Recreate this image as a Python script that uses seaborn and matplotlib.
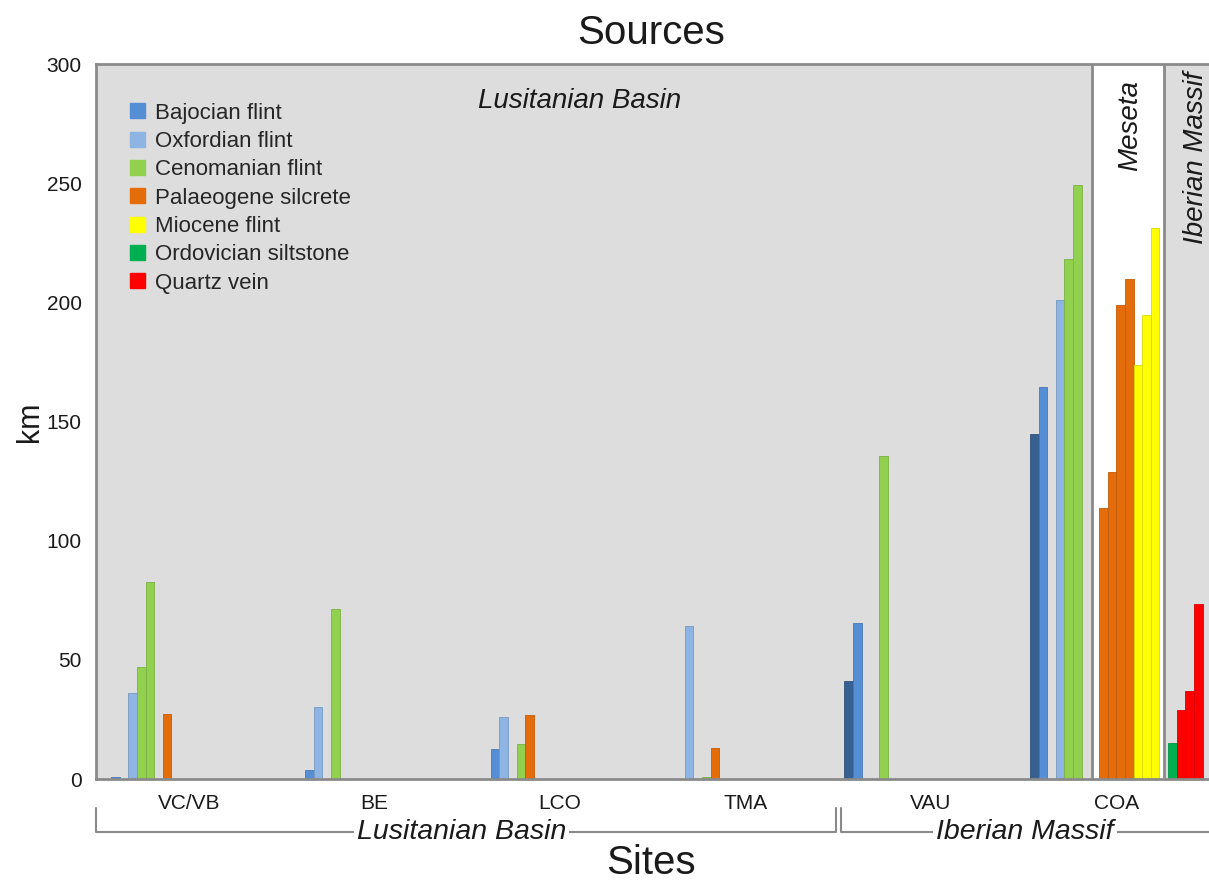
import numpy as np
import pandas as pd
import matplotlib.pyplot as plt
from matplotlib.patches import Patch
from matplotlib.colors import to_rgb
import seaborn as sns

sites = ["VC/VB", "BE", "LCO", "TMA", "VAU", "COA"]

source_names = ["Bajocian flint", "Oxfordian flint", "Cenomanian flint", "Palaeogene silcrete",
                "Miocene flint", "Ordovician siltstone", "Quartz vein"]
source_colors = ["#558ED5", "#8DB4E2", "#92D050", "#E46C0A", "#FFFF00", "#00B050", "#FF0000"]
dark_blue = "#376092"

nan = np.nan
# km from each site to the outcrops, one list per bar slot of a site cluster
bajocian_1 = [nan, nan, nan, nan, 41.2, 144.7]
bajocian_2 = [0.7, nan, nan, nan, 65.3, 164.3]
bajocian_3 = [nan, 3.6, 12.7, nan, nan, nan]
oxfordian_1 = [36.0, 30.1, 26.0, 64.3, nan, 200.8]
cenomanian_1 = [47.0, nan, nan, nan, 135.6, 218.0]
cenomanian_2 = [82.6, 71.3, 14.8, 0.7, nan, 249.2]
palaeogene_1 = [nan, nan, 27.0, 13.2, nan, nan]
palaeogene_2 = [27.4, nan, nan, nan, nan, nan]

# sources only reached from COA
coa_palaeogene = [113.5, 128.8, 198.8, 209.7]
coa_miocene = [173.7, 194.5, 231.3]
coa_ordovician = [15.3]
coa_quartz = [29.0, 37.1, 73.4]

# build the slot list (values per site + colour)
slots = [
    (bajocian_1, dark_blue),
    (bajocian_2, source_colors[0]),
    (bajocian_3, source_colors[0]),
    (oxfordian_1, source_colors[1]),
    (cenomanian_1, source_colors[2]),
    (cenomanian_2, source_colors[2]),
    (palaeogene_1, source_colors[3]),
    (palaeogene_2, source_colors[3]),
]
only_coa = lambda v: [nan] * 5 + [v]
slots += [(only_coa(v), source_colors[3]) for v in coa_palaeogene]
slots += [(only_coa(v), source_colors[4]) for v in coa_miocene]
slots += [([nan] * 6, "#FFFFFF")]  # empty slot
slots += [(only_coa(v), source_colors[5]) for v in coa_ordovician]
slots += [(only_coa(v), source_colors[6]) for v in coa_quartz]

rows = []
for i, (vals, col) in enumerate(slots):
    for site, v in zip(sites, vals):
        if not np.isnan(v):
            rows.append({"site": site, "slot": f"s{i}", "km": v})
df = pd.DataFrame(rows)
slot_names = [f"s{i}" for i in range(len(slots))]
palette = {f"s{i}": col for i, (vals, col) in enumerate(slots)}

sns.set_style("white")
plt.rcParams['font.family'] = ['Liberation Sans', 'DejaVu Sans']

W, H = 1209, 880
fig = plt.figure(figsize=(W / 100, H / 100), dpi=100)
ax = fig.add_axes([96 / W, 1 - 779 / H, 1113 / W, 715 / H])
ax.set_facecolor("#DDDDDD")

sns.barplot(data=df, x="site", y="km", hue="slot", order=sites, hue_order=slot_names,
            palette=palette, width=0.93, dodge=True, saturation=1, errorbar=None,
            legend=False, ax=ax)

# thin darker outline on every bar
for p in ax.patches:
    r, g, b = to_rgb(p.get_facecolor())
    p.set_edgecolor((r * 0.85, g * 0.85, b * 0.85))
    p.set_linewidth(0.6)

grey = "#8A8A8A"
# Meseta panel
ax.axvspan(4.87, 5.26, color="white", zorder=0.5)
ax.axvline(4.87, color=grey, lw=2, zorder=0.6)
ax.axvline(5.26, color=grey, lw=2, zorder=0.6)

ax.set_xlim(-0.5, 5.5)
ax.set_ylim(0, 300)
ax.set_yticks(np.arange(0, 301, 50))
ax.set_xlabel("")
ax.set_ylabel("")

for side in ["left", "bottom", "top"]:
    ax.spines[side].set_color(grey)
    ax.spines[side].set_linewidth(2)
ax.spines["right"].set_visible(False)

ax.tick_params(axis="y", length=4.3, width=1.5, color=grey, pad=6, labelsize=15, labelcolor="#1a1a1a")
ax.set_xticks(range(len(sites)))
ax.set_xticklabels(sites)
ax.set_xticks(np.arange(-0.5, 5.0, 1), minor=True)
ax.tick_params(axis="x", which="major", length=0, pad=11, labelsize=15, labelcolor="#1a1a1a")
ax.tick_params(axis="x", which="minor", length=3.6, width=1.5, color=grey, direction="out")

# region labels inside the plot
ax.text(2.106, 0.948, "Lusitanian Basin", transform=ax.get_xaxis_transform(),
        ha="center", va="center", fontsize=20, style="italic", color="#1a1a1a")
ax.text(5.075, 0.978, "Meseta", transform=ax.get_xaxis_transform(), rotation=90,
        ha="center", va="top", fontsize=20, style="italic", color="#1a1a1a")
ax.text(5.43, 0.989, "Iberian Massif", transform=ax.get_xaxis_transform(), rotation=90,
        ha="center", va="top", fontsize=20, style="italic", color="#1a1a1a")

# brackets under the site names
y1 = -(808 - 779) / 715
y2 = -(832 - 779) / 715
tr = ax.get_xaxis_transform()
ax.plot([-0.5, -0.5, 3.49, 3.49], [y1, y2, y2, y1], color=grey, lw=1.5, transform=tr, clip_on=False)
ax.plot([3.517, 3.517, 5.5], [y1, y2, y2], color=grey, lw=1.5, transform=tr, clip_on=False)
ax.text(1.47, y2, "Lusitanian Basin", transform=tr, ha="center", va="center", fontsize=20.5,
        style="italic", color="#1a1a1a", bbox=dict(facecolor="white", edgecolor="none", pad=2))
ax.text(4.508, y2, "Iberian Massif", transform=tr, ha="center", va="center", fontsize=20.5,
        style="italic", color="#1a1a1a", bbox=dict(facecolor="white", edgecolor="none", pad=2))

handles = [Patch(facecolor=c, edgecolor=c) for c in source_colors]
ax.legend(handles, source_names, loc="upper left", bbox_to_anchor=(0.0305, 0.946), frameon=False,
          fontsize=16, handlelength=0.68, handleheight=0.68, handletextpad=0.45,
          labelspacing=0.33, borderpad=0, borderaxespad=0)

fig.text(651 / W, 1 - 33 / H, "Sources", ha="center", va="center", fontsize=29, color="#1a1a1a")
fig.text(651 / W, 1 - 863 / H, "Sites", ha="center", va="center", fontsize=29, color="#1a1a1a")
fig.text(30 / W, 1 - 422 / H, "km", ha="center", va="center", rotation=90, fontsize=22, color="#1a1a1a")

fig.savefig("out.png", dpi=100)
